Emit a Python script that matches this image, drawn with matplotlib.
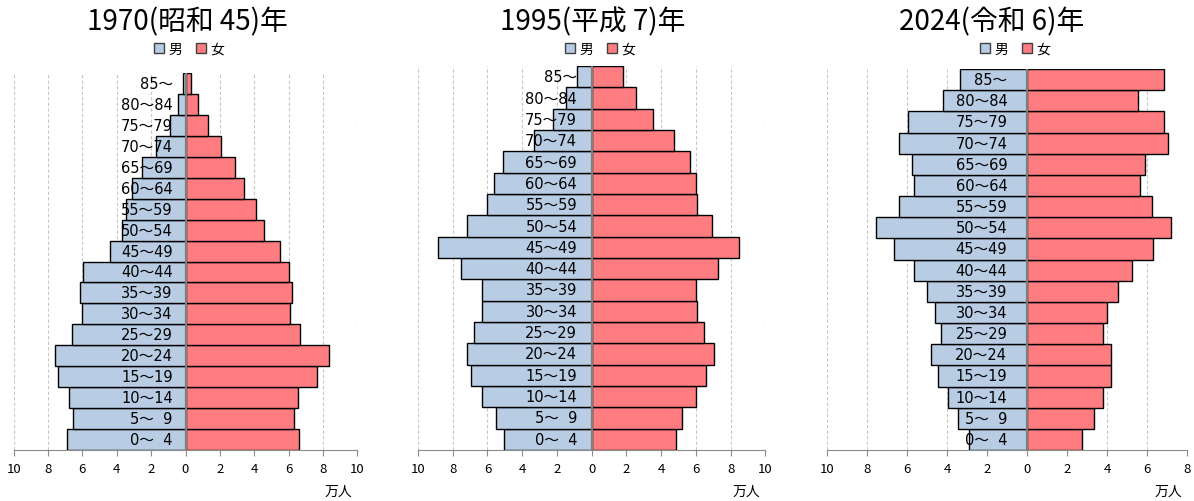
import matplotlib
matplotlib.use("Agg")
import matplotlib.pyplot as plt
from matplotlib.patches import Patch

plt.rcParams['font.family'] = ['Noto Sans CJK JP', 'DejaVu Sans']

ages = ["0～  4", "5～  9", "10～14", "15～19", "20～24", "25～29", "30～34",
        "35～39", "40～44", "45～49", "50～54", "55～59", "60～64", "65～69",
        "70～74", "75～79", "80～84", "85～"]

titles = ["1970(昭和 45)年", "1995(平成 7)年", "2024(令和 6)年"]

# 万人, youngest first
male_1970 = [6.88, 6.55, 6.78, 7.40, 7.60, 6.61, 6.05, 6.14, 5.99, 4.40,
             3.70, 3.49, 3.12, 2.54, 1.69, 0.91, 0.45, 0.15]
female_1970 = [6.59, 6.30, 6.53, 7.64, 8.37, 6.65, 6.07, 6.20, 6.00, 5.48,
               4.59, 4.11, 3.41, 2.89, 2.07, 1.30, 0.70, 0.33]

male_1995 = [5.04, 5.50, 6.32, 6.93, 7.18, 6.78, 6.32, 6.32, 7.53, 8.83,
             7.15, 6.02, 5.63, 5.10, 3.33, 2.24, 1.46, 0.84]
female_1995 = [4.87, 5.23, 6.02, 6.59, 7.03, 6.49, 6.07, 6.02, 7.30, 8.51,
               6.95, 6.09, 6.02, 5.69, 4.77, 3.56, 2.53, 1.82]

male_2024 = [2.90, 3.45, 3.95, 4.48, 4.80, 4.30, 4.60, 5.02, 5.65, 6.67,
             7.57, 6.42, 5.67, 5.77, 6.42, 5.97, 4.20, 3.37]
female_2024 = [2.73, 3.32, 3.78, 4.18, 4.20, 3.80, 4.00, 4.53, 5.23, 6.28,
               7.18, 6.23, 5.63, 5.88, 7.03, 6.85, 5.53, 6.85]

male_color = "#B8CCE4"
female_color = "#FF7C80"

W, H = 1194, 502
fig = plt.figure(figsize=(W / 100, H / 100), dpi=100)

# pixel layout: (left, right, top) of each plot area, x range, label offset, title x, legend x, unit x
panels = [
    dict(box=(13.7, 357.3, 74), xlim=(-10, 10), lab=-0.74, tx=187.5, lx=189, ux=338,
         male=male_1970, female=female_1970),
    dict(box=(418.0, 765.3, 67), xlim=(-10, 10), lab=-0.84, tx=593, lx=600, ux=746,
         male=male_1995, female=female_1995),
    dict(box=(827.3, 1187.3, 70), xlim=(-10, 8), lab=-1.0, tx=992, lx=1015, ux=1168,
         male=male_2024, female=female_2024),
]
bottom_px = 451

for p, title in zip(panels, titles):
    l, r, t = p["box"]
    ax = fig.add_axes([l / W, 1 - bottom_px / H, (r - l) / W, (bottom_px - t) / H])
    y = range(len(ages))
    ax.barh(y, [-v for v in p["male"]], height=1.0, color=male_color,
            edgecolor="black", linewidth=1, zorder=2)
    ax.barh(y, p["female"], height=1.0, color=female_color,
            edgecolor="black", linewidth=1, zorder=2)
    ax.axvline(0, color="#7F7F7F", linewidth=1.6, zorder=3)
    for i, a in enumerate(ages):
        ax.text(p["lab"], i, a, ha="right", va="center", fontsize=10.5, zorder=4,
                family=["DejaVu Sans", "Noto Sans CJK JP"])

    ax.set_xlim(*p["xlim"])
    ax.set_ylim(-0.5, len(ages) - 0.5)
    ticks = list(range(p["xlim"][0], p["xlim"][1] + 1, 2))
    ax.set_xticks(ticks)
    ax.set_xticklabels([str(abs(v)) for v in ticks], fontsize=9.5)
    ax.set_yticks([])
    for v in ticks:
        ax.axvline(v, color="#C8C8C8", linewidth=0.8, linestyle=(0, (3, 2)), zorder=0)
    for s in ["top", "left", "right"]:
        ax.spines[s].set_visible(False)
    ax.spines["bottom"].set_color("#8C8C8C")
    ax.tick_params(axis="x", direction="out", length=4, color="#8C8C8C", pad=5)

    fig.text(p["tx"] / W, 1 - 22 / H, title, ha="center", va="center", fontsize=20)
    handles = [Patch(facecolor=male_color, edgecolor="#404040", label="男"),
               Patch(facecolor=female_color, edgecolor="#404040", label="女")]
    ax.legend(handles=handles, loc="center", bbox_to_anchor=(p["lx"] / W, 1 - 50 / H),
              bbox_transform=fig.transFigure, ncol=2, frameon=False, fontsize=10,
              handlelength=0.7, handleheight=0.7, handletextpad=0.3, columnspacing=1.0)
    fig.text(p["ux"] / W, 1 - 492 / H, "万人", ha="center", va="center", fontsize=10)

fig.savefig("out.png", dpi=100)
